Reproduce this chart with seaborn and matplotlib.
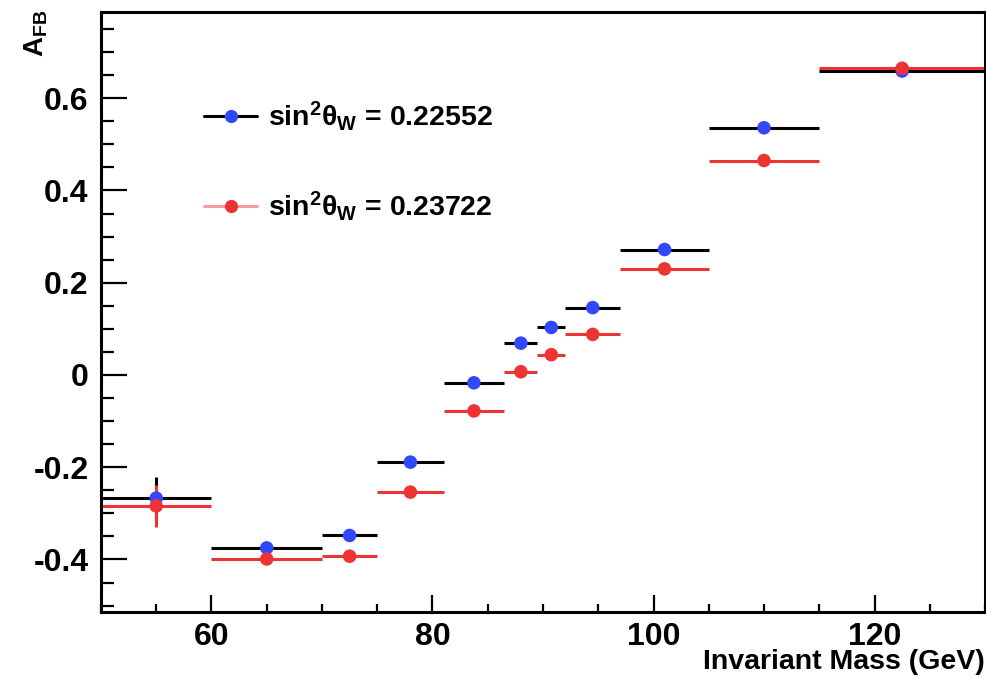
import pandas as pd
import matplotlib
matplotlib.use("Agg")
import matplotlib.pyplot as plt
from matplotlib.lines import Line2D
from matplotlib.ticker import MultipleLocator, FixedLocator, FuncFormatter
import seaborn as sns

# --- data ---
bin_lo = [50, 60, 70, 75, 81, 86.5, 89.5, 92, 97, 105, 115]
bin_hi = [60, 70, 75, 81, 86.5, 89.5, 92, 97, 105, 115, 130]
afb_22552 = [-0.267, -0.375, -0.348, -0.189, -0.017, 0.069, 0.103, 0.146, 0.272, 0.536, 0.659]
afb_23722 = [-0.284, -0.399, -0.393, -0.254, -0.078, 0.007, 0.044, 0.088, 0.230, 0.465, 0.665]
err_22552 = [0.045, 0.008, 0.008, 0.008, 0.008, 0.008, 0.008, 0.008, 0.008, 0.008, 0.008]
err_23722 = [0.045, 0.008, 0.008, 0.008, 0.008, 0.008, 0.008, 0.008, 0.008, 0.008, 0.008]
series_labels = ["0.22552", "0.23722"]


def make_plot():
    centers = [(a + b) / 2 for a, b in zip(bin_lo, bin_hi)]
    halfw = [(b - a) / 2 for a, b in zip(bin_lo, bin_hi)]

    df = pd.concat([
        pd.DataFrame({"mass": centers, "afb": afb_22552, "err": err_22552,
                      "hw": halfw, "sw2": series_labels[0]}),
        pd.DataFrame({"mass": centers, "afb": afb_23722, "err": err_23722,
                      "hw": halfw, "sw2": series_labels[1]}),
    ], ignore_index=True)

    sns.set_theme(style="ticks")
    plt.rcParams["font.family"] = ["Liberation Sans", "DejaVu Sans"]
    plt.rcParams["font.weight"] = "bold"
    plt.rcParams["axes.unicode_minus"] = False
    plt.rcParams["text.color"] = "black"
    plt.rcParams["xtick.color"] = "black"
    plt.rcParams["ytick.color"] = "black"
    plt.rcParams["axes.labelcolor"] = "black"
    plt.rcParams["mathtext.fontset"] = "custom"
    plt.rcParams["mathtext.rm"] = "Liberation Sans:bold"
    plt.rcParams["mathtext.it"] = "Liberation Sans:bold"
    plt.rcParams["mathtext.bf"] = "Liberation Sans:bold"

    fig = plt.figure(figsize=(9.87, 6.78), dpi=100)
    ax = fig.add_axes([0.1023, 0.0973, 0.8957, 0.885])

    bar_colors = {"0.22552": "black", "0.23722": "#ee3333"}
    dot_colors = {"0.22552": "#3048ff", "0.23722": "#ee3333"}

    for lab in series_labels:
        sub = df[df["sw2"] == lab]
        ax.errorbar(sub["mass"], sub["afb"], xerr=sub["hw"], yerr=sub["err"],
                    fmt="none", ecolor=bar_colors[lab], elinewidth=2.2,
                    capsize=0, zorder=2)
        sns.scatterplot(data=sub, x="mass", y="afb", color=dot_colors[lab],
                        s=95, edgecolor="none", ax=ax, zorder=3, legend=False)

    ax.set_xlim(50, 130)
    ax.set_ylim(-0.514, 0.787)

    ax.xaxis.set_major_locator(FixedLocator([60, 80, 100, 120]))
    ax.xaxis.set_minor_locator(MultipleLocator(5))
    ax.yaxis.set_major_locator(MultipleLocator(0.2))
    ax.yaxis.set_minor_locator(MultipleLocator(0.05))
    ax.yaxis.set_major_formatter(FuncFormatter(
        lambda v, p: "0" if abs(v) < 1e-9 else f"{v:.1f}"))

    ax.tick_params(axis="x", which="major", direction="in", length=12.5,
                   width=1.6, pad=7, labelsize=23, top=False)
    ax.tick_params(axis="x", which="minor", direction="in", length=6,
                   width=1.6, top=False)
    ax.tick_params(axis="y", which="major", direction="in", length=19,
                   width=1.6, pad=9, labelsize=23, right=False)
    ax.tick_params(axis="y", which="minor", direction="in", length=9.5,
                   width=1.6, right=False)
    for lbl in ax.get_xticklabels() + ax.get_yticklabels():
        lbl.set_fontweight("bold")

    for sp in ax.spines.values():
        sp.set_visible(True)
        sp.set_linewidth(2.2)
        sp.set_color("black")

    ax.set_xlabel("")
    ax.set_ylabel("")
    fig.text(0.998, 1 - 662 / 678, "Invariant Mass (GeV)", ha="right",
             va="center", fontsize=20.5, fontweight="bold")
    fig.text(0.037, 0.985, r"$\mathrm{A_{FB}}$", rotation=90, ha="center",
             va="top", fontsize=20)

    handles = [
        Line2D([0], [0], color="black", lw=2.2, marker="o", markersize=9.5,
               markerfacecolor=dot_colors["0.22552"], markeredgecolor="none"),
        Line2D([0], [0], color="#f5a0a0", lw=2.2, marker="o", markersize=9.5,
               markerfacecolor=dot_colors["0.23722"], markeredgecolor="none"),
    ]
    labels = [r"$\mathrm{sin^{2}\theta_{W}}$ = " + s for s in series_labels]
    ax.legend(handles, labels, loc="upper left", bbox_to_anchor=(0.117, 0.855),
              frameon=False, handlelength=1.85, handletextpad=0.4,
              labelspacing=2.0, borderpad=0, borderaxespad=0,
              prop={"weight": "bold", "size": 20.5})

    fig.savefig("out.png", dpi=100)


if __name__ == "__main__":
    make_plot()
